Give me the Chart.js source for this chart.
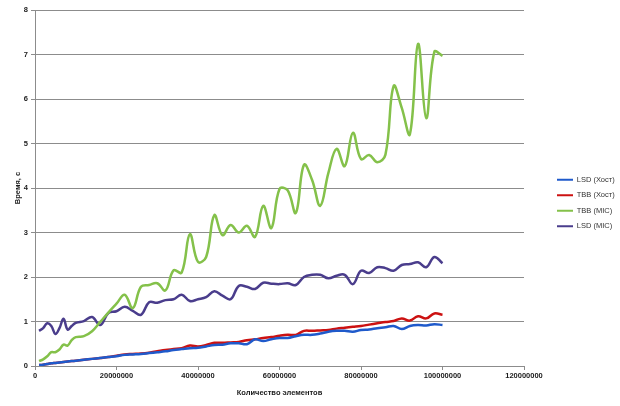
<!DOCTYPE html>
<html>
<head>
<meta charset="utf-8">
<script src="https://cdn.jsdelivr.net/npm/chart.js@4/dist/chart.umd.min.js"></script>
<style>
  html, body { margin: 0; padding: 0; background: #ffffff; }
  canvas { display: block; }
</style>
</head>
<body>
<canvas id="c" width="620" height="406"></canvas>
<script>
// Количество элементов (в миллионах)
const elementCountsM = [1,2,3,4,5,6,7,8,9,10,12,14,16,18,20,22,24,26,28,30,32,34,36,38,40,42,44,46,48,50,52,54,56,58,60,62,64,66,68,70,72,74,76,78,80,82,84,86,88,90,92,94,96,98,100];

const seriesNames = ['LSD (Хост)', 'TBB (Хост)', 'TBB (MIC)', 'LSD (MIC)'];
const seriesColors = ['#1F5ACB', '#CC1111', '#84C14A', '#4A3D8C'];

const lsdHost = [0.02,0.03,0.045,0.06,0.07,0.08,0.09,0.10,0.11,0.12,0.14,0.16,0.18,0.20,0.22,0.25,0.26,0.27,0.29,0.31,0.33,0.36,0.38,0.40,0.41,0.44,0.47,0.48,0.51,0.51,0.49,0.60,0.56,0.60,0.63,0.63,0.67,0.70,0.70,0.73,0.77,0.79,0.79,0.77,0.81,0.82,0.85,0.87,0.90,0.83,0.90,0.92,0.91,0.94,0.92];
const tbbHost = [0.02,0.03,0.045,0.06,0.07,0.08,0.09,0.10,0.11,0.12,0.14,0.16,0.18,0.20,0.23,0.26,0.27,0.28,0.30,0.33,0.36,0.38,0.40,0.46,0.44,0.47,0.52,0.52,0.53,0.54,0.58,0.60,0.63,0.65,0.68,0.70,0.70,0.79,0.79,0.80,0.81,0.84,0.86,0.88,0.90,0.93,0.96,0.99,1.01,1.07,1.02,1.12,1.07,1.18,1.15];
const tbbMic = [0.11,0.15,0.22,0.31,0.31,0.37,0.48,0.46,0.58,0.65,0.67,0.78,0.99,1.20,1.40,1.60,1.30,1.78,1.82,1.86,1.70,2.15,2.10,2.96,2.34,2.45,3.39,2.94,3.17,3.00,3.15,2.90,3.60,3.10,3.98,3.95,3.44,4.52,4.18,3.60,4.34,4.88,4.49,5.24,4.65,4.74,4.58,4.75,6.29,5.80,5.21,7.24,5.57,7.06,6.97];
const lsdMic = [0.79,0.85,0.96,0.90,0.72,0.85,1.06,0.82,0.90,0.97,1.01,1.10,0.92,1.19,1.23,1.33,1.24,1.15,1.43,1.42,1.48,1.50,1.60,1.46,1.50,1.55,1.68,1.58,1.50,1.80,1.78,1.73,1.87,1.85,1.84,1.86,1.82,2.00,2.05,2.05,1.97,2.03,2.05,1.84,2.14,2.09,2.22,2.20,2.14,2.27,2.29,2.33,2.22,2.45,2.31];

const yTitle = 'Время, с';
const xTitle = 'Количество элементов';

const MILLION = 1000000;
const seriesValues = [lsdHost, tbbHost, tbbMic, lsdMic];

const datasets = seriesValues.map((vals, i) => ({
  label: seriesNames[i],
  data: vals.map((v, k) => ({ x: elementCountsM[k] * MILLION, y: v })),
  borderColor: seriesColors[i],
  backgroundColor: seriesColors[i],
  borderWidth: 2.5,
  pointRadius: 0,
  tension: 0.4,
  fill: false
}));

Chart.defaults.font.family = "'Liberation Sans', Arial, sans-serif";
Chart.defaults.font.size = 7.5;
Chart.defaults.color = '#1a1a1a';

const gridColor = '#8c8c8c';

new Chart(document.getElementById('c'), {
  type: 'line',
  data: { datasets },
  options: {
    responsive: false,
    animation: false,
    layout: { padding: 0 },
    plugins: {
      tooltip: { enabled: false },
      legend: {
        position: 'right',
        maxWidth: 71,
        labels: {
          boxWidth: 16,
          boxHeight: 2,
          padding: 8,
          color: '#333333',
          font: { size: 7.5 },
          generateLabels: (chart) =>
            Chart.defaults.plugins.legend.labels.generateLabels(chart).map(l => Object.assign(l, { lineWidth: 0 }))
        }
      }
    },
    scales: {
      x: {
        type: 'linear',
        position: 'bottom',
        min: 0,
        max: 120000000,
        afterFit: (s) => { s.height = 40; },
        ticks: {
          stepSize: 20000000,
          padding: 1,
          maxRotation: 0,
          autoSkip: false,
          callback: (v) => String(v),
          font: { size: 7.5, weight: 'bold' },
          color: '#1a1a1a'
        },
        grid: { drawOnChartArea: false, drawTicks: true, tickLength: 4, color: gridColor },
        border: { display: true, color: gridColor },
        title: {
          display: true,
          text: xTitle,
          font: { size: 7.5, weight: 'bold' },
          padding: { top: 0, bottom: 9 }
        }
      },
      xTop: {
        type: 'linear',
        position: 'top',
        display: true,
        afterFit: (s) => { s.height = 10; },
        ticks: { display: false },
        grid: { display: false },
        border: { display: false }
      },
      y: {
        type: 'linear',
        position: 'left',
        min: 0,
        max: 8,
        afterFit: (s) => { s.width = 35; },
        ticks: {
          stepSize: 1,
          padding: 3,
          font: { size: 7.5, weight: 'bold' },
          color: '#1a1a1a'
        },
        grid: { color: gridColor, drawTicks: true, tickLength: 4 },
        border: { display: true, color: gridColor },
        title: {
          display: true,
          text: yTitle,
          font: { size: 7.5, weight: 'bold' },
          padding: { top: 13, bottom: 0 }
        }
      },
      yRight: {
        type: 'linear',
        position: 'right',
        display: true,
        afterFit: (s) => { s.width = 25; },
        ticks: { display: false },
        grid: { display: false },
        border: { display: false }
      }
    }
  }
});
</script>
</body>
</html>
